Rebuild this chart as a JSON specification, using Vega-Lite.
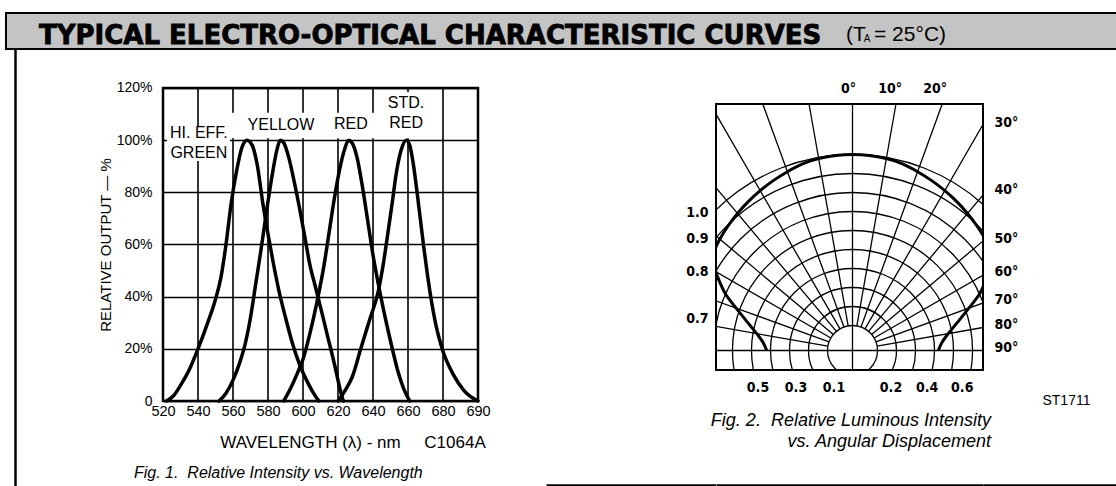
{
"$schema": "https://vega.github.io/schema/vega-lite/v6.json",
"padding": {"left": 5, "top": 12, "right": 0, "bottom": 0},
"background": "white",
"spacing": 0,
"bounds": "flush",
"config": {
  "font": "Liberation Sans",
  "view": {"stroke": null},
  "axis": {"labelColor": "black", "titleColor": "black", "domainColor": "black", "tickColor": "black", "gridColor": "black", "labelFont": "Liberation Sans", "titleFont": "Liberation Sans", "titleFontWeight": "normal"},
  "title": {"color": "black"}
},
"vconcat": [
  {
    "width": 1111, "height": 36,
    "view": {"fill": "#c4c4c4", "stroke": "black", "strokeWidth": 2},
    "data": {"values": [{"k": 1}]},
    "layer": [
      {"mark": {"type": "text", "text": "TYPICAL ELECTRO-OPTICAL CHARACTERISTIC CURVES", "font": "DejaVu Sans", "fontWeight": "bold", "fontSize": 26, "align": "left", "baseline": "alphabetic", "color": "black", "stroke": "black", "strokeWidth": 0.8},
       "encoding": {"x": {"datum": 2.97, "type": "quantitative", "scale": {"domain": [0, 100], "nice": false, "zero": false}, "axis": null}, "y": {"datum": 5, "type": "quantitative", "scale": {"domain": [0, 36], "nice": false, "zero": false}, "axis": null}}},
      {"mark": {"type": "text", "text": "(T", "font": "Liberation Sans", "fontSize": 21, "align": "left", "baseline": "alphabetic", "color": "black"},
       "encoding": {"x": {"datum": 75.61, "type": "quantitative"}, "y": {"datum": 8, "type": "quantitative"}}},
      {"mark": {"type": "text", "text": "A", "font": "Liberation Sans", "fontSize": 10, "align": "left", "baseline": "alphabetic", "color": "black"},
       "encoding": {"x": {"datum": 77.2, "type": "quantitative"}, "y": {"datum": 7.5, "type": "quantitative"}}},
      {"mark": {"type": "text", "text": "= 25°C)", "font": "Liberation Sans", "fontSize": 21, "align": "left", "baseline": "alphabetic", "color": "black"},
       "encoding": {"x": {"datum": 78.13, "type": "quantitative"}, "y": {"datum": 8, "type": "quantitative"}}}
    ]
  },
  {
    "hconcat": [
      {
        "width": 157, "height": 438,
        "data": {"values": [{"v": 0}]},
        "mark": {"type": "text", "text": ""},
        "encoding": {"y": {"field": "v", "type": "quantitative", "scale": {"domain": [0, 1], "nice": false}, "axis": {"orient": "left", "offset": -9, "domain": true, "domainColor": "black", "domainWidth": 2.5, "ticks": false, "labels": false, "grid": false, "title": null}}}
      },
      {
        "width": 315, "height": 352,
        "title": {"text": "Fig. 1.\u00a0\u00a0Relative Intensity vs. Wavelength", "orient": "bottom", "anchor": "start", "frame": "group", "offset": 14, "dx": -29, "fontSize": 16, "fontStyle": "italic", "fontWeight": "normal", "font": "Liberation Sans", "color": "black"},
        "encoding": {
          "x": {"field": "nm", "type": "quantitative", "scale": {"type": "linear", "domain": [520, 680, 690], "range": [0, 280, 315], "nice": false, "zero": false},
                "axis": {"values": [520, 540, 560, 580, 600, 620, 640, 660, 680, 690], "grid": false, "ticks": false, "domain": false, "labelFontSize": 14.5, "labelPadding": 3, "labelOverlap": false, "labelFlush": false, "title": "WAVELENGTH (λ) - nm\u00a0\u00a0\u00a0\u00a0\u00a0C1064A", "titleFontSize": 17, "titleFontWeight": "normal", "titlePadding": 17, "titleX": 189.5}},
          "y": {"field": "pct", "type": "quantitative", "scale": {"domain": [0, 134.95], "nice": false, "zero": false},
                "axis": {"values": [0, 20, 40, 60, 80, 100, 120], "labelExpr": "datum.value == 0 ? '0' : datum.value + '%'", "grid": true, "gridColor": "black", "gridWidth": 1.6, "ticks": false, "domain": false, "labelFontSize": 14, "labelPadding": 11, "labelOverlap": false, "title": "RELATIVE OUTPUT — %", "titleFontSize": 15, "titleFontWeight": "normal", "titlePadding": 3, "titleY": 195.5}}
        },
        "layer": [
          {"data": {"values": [{"nm": 540, "pct": 0, "pct2": 120}, {"nm": 560, "pct": 0, "pct2": 120}, {"nm": 580, "pct": 0, "pct2": 120}, {"nm": 600, "pct": 0, "pct2": 120}, {"nm": 620, "pct": 0, "pct2": 120}, {"nm": 640, "pct": 0, "pct2": 120}, {"nm": 660, "pct": 0, "pct2": 120}, {"nm": 680, "pct": 0, "pct2": 120}]},
           "mark": {"type": "rule", "color": "black", "strokeWidth": 1.6},
           "encoding": {"y2": {"field": "pct2"}}},
          {"data": {"values": [
            {"nm": 522.3, "nm2": 558.3, "pct": 92, "pct2": 105.4},
            {"nm": 550, "nm2": 647, "pct": 100.7, "pct2": 110.5},
            {"nm": 646, "nm2": 674, "pct": 100.7, "pct2": 118.5}
           ]},
           "mark": {"type": "rect", "fill": "white", "stroke": null},
           "encoding": {"x2": {"field": "nm2"}, "y2": {"field": "pct2"}}},
          {"data": {"values": [
            {"led": "G", "nm": 522, "pct": 0}, {"led": "G", "nm": 526, "pct": 2}, {"led": "G", "nm": 530, "pct": 6}, {"led": "G", "nm": 535, "pct": 12}, {"led": "G", "nm": 540, "pct": 20}, {"led": "G", "nm": 545, "pct": 29}, {"led": "G", "nm": 550, "pct": 39}, {"led": "G", "nm": 553, "pct": 47}, {"led": "G", "nm": 556, "pct": 60}, {"led": "G", "nm": 559, "pct": 76}, {"led": "G", "nm": 562, "pct": 88}, {"led": "G", "nm": 565, "pct": 97}, {"led": "G", "nm": 568, "pct": 100}, {"led": "G", "nm": 571, "pct": 98}, {"led": "G", "nm": 574, "pct": 90}, {"led": "G", "nm": 577, "pct": 76}, {"led": "G", "nm": 580, "pct": 64}, {"led": "G", "nm": 583, "pct": 53}, {"led": "G", "nm": 586, "pct": 43}, {"led": "G", "nm": 590, "pct": 32}, {"led": "G", "nm": 594, "pct": 22}, {"led": "G", "nm": 598, "pct": 14}, {"led": "G", "nm": 602, "pct": 8}, {"led": "G", "nm": 606, "pct": 3}, {"led": "G", "nm": 609, "pct": 0},
            {"led": "Y", "nm": 552, "pct": 0}, {"led": "Y", "nm": 556, "pct": 3}, {"led": "Y", "nm": 560, "pct": 8}, {"led": "Y", "nm": 564, "pct": 15}, {"led": "Y", "nm": 567, "pct": 22}, {"led": "Y", "nm": 570, "pct": 32}, {"led": "Y", "nm": 573, "pct": 45}, {"led": "Y", "nm": 576, "pct": 58}, {"led": "Y", "nm": 579, "pct": 72}, {"led": "Y", "nm": 582, "pct": 85}, {"led": "Y", "nm": 585, "pct": 96}, {"led": "Y", "nm": 587, "pct": 100}, {"led": "Y", "nm": 589, "pct": 99}, {"led": "Y", "nm": 592, "pct": 93}, {"led": "Y", "nm": 595, "pct": 84}, {"led": "Y", "nm": 598, "pct": 74}, {"led": "Y", "nm": 601, "pct": 63}, {"led": "Y", "nm": 604, "pct": 52}, {"led": "Y", "nm": 607, "pct": 44}, {"led": "Y", "nm": 610, "pct": 36}, {"led": "Y", "nm": 614, "pct": 25}, {"led": "Y", "nm": 618, "pct": 14}, {"led": "Y", "nm": 621, "pct": 5}, {"led": "Y", "nm": 623, "pct": 0},
            {"led": "R", "nm": 589, "pct": 0}, {"led": "R", "nm": 593, "pct": 5}, {"led": "R", "nm": 597, "pct": 11}, {"led": "R", "nm": 600, "pct": 16}, {"led": "R", "nm": 604, "pct": 26}, {"led": "R", "nm": 608, "pct": 38}, {"led": "R", "nm": 612, "pct": 52}, {"led": "R", "nm": 615, "pct": 65}, {"led": "R", "nm": 618, "pct": 78}, {"led": "R", "nm": 621, "pct": 89}, {"led": "R", "nm": 624, "pct": 97}, {"led": "R", "nm": 626, "pct": 100}, {"led": "R", "nm": 628, "pct": 99}, {"led": "R", "nm": 631, "pct": 93}, {"led": "R", "nm": 634, "pct": 82}, {"led": "R", "nm": 637, "pct": 69}, {"led": "R", "nm": 640, "pct": 56}, {"led": "R", "nm": 643, "pct": 45}, {"led": "R", "nm": 646, "pct": 35}, {"led": "R", "nm": 650, "pct": 23}, {"led": "R", "nm": 654, "pct": 12}, {"led": "R", "nm": 658, "pct": 4}, {"led": "R", "nm": 661, "pct": 0},
            {"led": "S", "nm": 620, "pct": 0}, {"led": "S", "nm": 624, "pct": 4}, {"led": "S", "nm": 628, "pct": 9}, {"led": "S", "nm": 633, "pct": 20}, {"led": "S", "nm": 638, "pct": 31}, {"led": "S", "nm": 643, "pct": 42}, {"led": "S", "nm": 646, "pct": 53}, {"led": "S", "nm": 648, "pct": 62}, {"led": "S", "nm": 651, "pct": 76}, {"led": "S", "nm": 653, "pct": 86}, {"led": "S", "nm": 656, "pct": 96}, {"led": "S", "nm": 659, "pct": 100}, {"led": "S", "nm": 661, "pct": 98}, {"led": "S", "nm": 663, "pct": 91}, {"led": "S", "nm": 665, "pct": 81}, {"led": "S", "nm": 667, "pct": 70}, {"led": "S", "nm": 669, "pct": 59}, {"led": "S", "nm": 671, "pct": 49}, {"led": "S", "nm": 673, "pct": 40}, {"led": "S", "nm": 676, "pct": 29}, {"led": "S", "nm": 679.5, "pct": 20}, {"led": "S", "nm": 683, "pct": 10}, {"led": "S", "nm": 686, "pct": 4}, {"led": "S", "nm": 690, "pct": 0}
           ]},
           "mark": {"type": "line", "color": "black", "strokeWidth": 3.5, "interpolate": "monotone", "strokeCap": "round"},
           "encoding": {"detail": {"field": "led", "type": "nominal"}}},
          {"data": {"values": [{"nm": 520, "nm2": 690, "pct": 0, "pct2": 120}]},
           "mark": {"type": "rect", "fill": null, "fillOpacity": 0, "stroke": "black", "strokeWidth": 2.5},
           "encoding": {"x2": {"field": "nm2"}, "y2": {"field": "pct2"}}},
          {"data": {"values": [
            {"t": "HI. EFF.", "nm": 540.5, "pct": 102.8},
            {"t": "GREEN", "nm": 540.5, "pct": 95.1},
            {"t": "YELLOW", "nm": 587.4, "pct": 105.8},
            {"t": "RED", "nm": 627.4, "pct": 106.2},
            {"t": "STD.", "nm": 658.9, "pct": 114.3},
            {"t": "RED", "nm": 658.9, "pct": 106.6}
           ]},
           "mark": {"type": "text", "fontSize": 16, "color": "black", "baseline": "middle", "align": "center", "font": "Liberation Sans"},
           "encoding": {"text": {"field": "t", "type": "nominal"}}}
        ]
      },
      {
        "width": 68, "height": 10,
        "data": {"values": [{"v": 0}]},
        "mark": {"type": "text", "text": ""}
      },
      {
        "width": 169.5, "height": 436,
        "data": {"values": [{"v": 0}]},
        "mark": {"type": "text", "text": ""},
        "encoding": {"x": {"field": "v", "type": "quantitative", "scale": {"domain": [0, 1], "nice": false}, "axis": {"orient": "bottom", "domain": true, "domainColor": "black", "domainWidth": 2.5, "ticks": false, "labels": false, "grid": false, "title": null}}}
      },
      {
        "width": 267, "height": 321,
        "title": {"text": "Fig. 2.\u00a0\u00a0Relative Luminous Intensity", "subtitle": "vs. Angular Displacement", "orient": "bottom", "anchor": "end", "frame": "group", "offset": -73, "dx": 8, "fontSize": 18, "fontStyle": "italic", "fontWeight": "normal", "font": "Liberation Sans", "color": "black", "subtitleFont": "Liberation Sans", "subtitleFontSize": 18, "subtitleFontStyle": "italic", "subtitleColor": "black", "subtitlePadding": 3},
        "resolve": {"axis": {"x": "independent", "y": "independent"}},
        "layer": [
          {"data": {"values": [{"v": 0.1}, {"v": 0.2}, {"v": 0.3}, {"v": 0.4}, {"v": 0.5}, {"v": 0.6}, {"v": 0.7}, {"v": 0.8}, {"v": 0.9}, {"v": 1.0}]},
           "mark": {"type": "arc", "filled": false, "color": "black", "stroke": "black", "strokeWidth": 1.3, "clip": true},
           "encoding": {
             "x": {"datum": 0, "type": "quantitative", "scale": {"domain": [-0.7184, 0.6868], "nice": false, "zero": false},
                   "axis": {"orient": "bottom", "values": [-0.5, -0.3, -0.1, 0.2, 0.39, 0.575], "labelExpr": "format(abs(datum.value), '.1f')", "domain": false, "ticks": false, "grid": false, "title": null, "labelPadding": 10, "labelFontSize": 14, "labelFontWeight": "bold", "labelFont": "Liberation Sans Narrow, DejaVu Sans Condensed, Liberation Sans", "labelOverlap": false}},
             "y": {"datum": 0, "type": "quantitative", "scale": {"domain": [-0.1026, 1.5869], "nice": false, "zero": false},
                   "axis": {"orient": "left", "values": [0.166, 0.418, 0.587, 0.725], "labelExpr": "datum.value > 0.65 ? '1.0' : datum.value > 0.5 ? '0.9' : datum.value > 0.3 ? '0.8' : '0.7'", "domain": false, "ticks": false, "grid": false, "title": null, "labelPadding": 8, "labelFontSize": 14, "labelFontWeight": "bold", "labelFont": "Liberation Sans Narrow, DejaVu Sans Condensed, Liberation Sans", "labelOverlap": false}},
             "theta": {"datum": -180, "type": "quantitative", "scale": {"type": "linear", "domain": [0, 360], "range": [0, 6.283185307179586]}, "stack": null},
             "theta2": {"datum": 180},
             "radius": {"field": "v", "type": "quantitative", "scale": {"type": "linear", "domain": [-0.0316, 1], "range": [0, 196], "zero": false}},
             "radius2": {"field": "v"}
           }},
          {"data": {"values": [
            {"ang": 0, "r0": -0.0316, "r1": 1.2658}, {"ang": 90, "r0": -0.0316, "r1": 1.5}, {"ang": -90, "r0": -0.0316, "r1": 1.5}, {"ang": 180, "r0": -0.0316, "r1": 0.3},
            {"ang": 10, "r0": 0.1, "r1": 1.2858}, {"ang": 20, "r0": 0.1, "r1": 1.3491}, {"ang": 30, "r0": 0.1, "r1": 1.5}, {"ang": 40, "r0": 0.1, "r1": 1.5}, {"ang": 50, "r0": 0.1, "r1": 1.5}, {"ang": 60, "r0": 0.1, "r1": 1.5}, {"ang": 70, "r0": 0.1, "r1": 1.5}, {"ang": 80, "r0": 0.1, "r1": 1.5},
            {"ang": -10, "r0": 0.1, "r1": 1.2858}, {"ang": -20, "r0": 0.1, "r1": 1.3491}, {"ang": -30, "r0": 0.1, "r1": 1.5}, {"ang": -40, "r0": 0.1, "r1": 1.5}, {"ang": -50, "r0": 0.1, "r1": 1.5}, {"ang": -60, "r0": 0.1, "r1": 1.5}, {"ang": -70, "r0": 0.1, "r1": 1.5}, {"ang": -80, "r0": 0.1, "r1": 1.5}
           ]},
           "mark": {"type": "arc", "filled": false, "color": "black", "stroke": "black", "strokeWidth": 1.3, "clip": true},
           "encoding": {
             "x": {"datum": 0, "type": "quantitative",
                   "axis": {"orient": "top", "offset": -55, "values": [-0.023, 0.195, 0.432], "labelExpr": "datum.value < 0.1 ? '0°' : datum.value < 0.3 ? '10°' : '20°'", "domain": false, "ticks": false, "grid": false, "title": null, "labelPadding": 9, "labelFontSize": 14, "labelFontWeight": "bold", "labelFont": "Liberation Sans Narrow, DejaVu Sans Condensed, Liberation Sans", "labelOverlap": false}},
             "y": {"datum": 0, "type": "quantitative",
                   "axis": {"orient": "right", "values": [0.015, 0.139, 0.271, 0.418, 0.587, 0.85, 1.199], "labelExpr": "datum.value > 1 ? '30°' : datum.value > 0.7 ? '40°' : datum.value > 0.5 ? '50°' : datum.value > 0.35 ? '60°' : datum.value > 0.2 ? '70°' : datum.value > 0.08 ? '80°' : '90°'", "domain": false, "ticks": false, "grid": false, "title": null, "labelPadding": 11, "labelFontSize": 14, "labelFontWeight": "bold", "labelFont": "Liberation Sans Narrow, DejaVu Sans Condensed, Liberation Sans", "labelOverlap": false}},
             "theta": {"field": "ang", "type": "quantitative", "stack": null},
             "theta2": {"field": "ang"},
             "radius": {"field": "r1", "type": "quantitative"},
             "radius2": {"field": "r0"}
           }},
          {"data": {"values": [
            {"ang": -90, "x": -0.4516, "y": 0.0}, {"ang": -85, "x": -0.4698, "y": 0.0411}, {"ang": -80, "x": -0.5038, "y": 0.0888}, {"ang": -75, "x": -0.5521, "y": 0.1479}, {"ang": -70, "x": -0.6123, "y": 0.2229}, {"ang": -66, "x": -0.6684, "y": 0.2976}, {"ang": -63, "x": -0.6964, "y": 0.3548}, {"ang": -60, "x": -0.7202, "y": 0.4158}, {"ang": -57, "x": -0.731, "y": 0.4747}, {"ang": -54, "x": -0.7254, "y": 0.527}, {"ang": -50, "x": -0.6983, "y": 0.586}, {"ang": -45, "x": -0.6552, "y": 0.6552}, {"ang": -40, "x": -0.6053, "y": 0.7213}, {"ang": -35, "x": -0.5487, "y": 0.7836}, {"ang": -30, "x": -0.4858, "y": 0.8414}, {"ang": -25, "x": -0.417, "y": 0.8942}, {"ang": -20, "x": -0.3426, "y": 0.9412}, {"ang": -15, "x": -0.2631, "y": 0.982}, {"ang": -10, "x": -0.1783, "y": 1.011},
            {"ang": 0, "x": 0, "y": 1.0316},
            {"ang": 10, "x": 0.1783, "y": 1.011}, {"ang": 15, "x": 0.2631, "y": 0.982}, {"ang": 20, "x": 0.3426, "y": 0.9412}, {"ang": 25, "x": 0.417, "y": 0.8942}, {"ang": 30, "x": 0.4858, "y": 0.8414}, {"ang": 35, "x": 0.5487, "y": 0.7836}, {"ang": 40, "x": 0.6053, "y": 0.7213}, {"ang": 45, "x": 0.6552, "y": 0.6552}, {"ang": 50, "x": 0.6983, "y": 0.586}, {"ang": 54, "x": 0.7254, "y": 0.527}, {"ang": 57, "x": 0.731, "y": 0.4747}, {"ang": 60, "x": 0.7202, "y": 0.4158}, {"ang": 63, "x": 0.6964, "y": 0.3548}, {"ang": 66, "x": 0.6684, "y": 0.2976}, {"ang": 70, "x": 0.6123, "y": 0.2229}, {"ang": 75, "x": 0.5521, "y": 0.1479}, {"ang": 80, "x": 0.5038, "y": 0.0888}, {"ang": 85, "x": 0.4698, "y": 0.0411}, {"ang": 90, "x": 0.4516, "y": 0.0}
           ]},
           "mark": {"type": "line", "color": "black", "strokeWidth": 3, "clip": true, "interpolate": "catmull-rom"},
           "encoding": {
             "x": {"field": "x", "type": "quantitative", "axis": {"orient": "bottom", "offset": 115, "domain": true, "domainColor": "black", "domainWidth": 2.5, "ticks": false, "labels": false, "grid": false, "title": null}},
             "y": {"field": "y", "type": "quantitative", "axis": null},
             "order": {"field": "ang", "type": "quantitative"}
           }},
          {"data": {"values": [{"t": "ST1711"}]},
           "mark": {"type": "text", "fontSize": 14, "color": "black", "font": "Liberation Sans"},
           "encoding": {
             "x": {"datum": 1.126, "type": "quantitative", "axis": null},
             "y": {"datum": -0.266, "type": "quantitative", "axis": null},
             "text": {"field": "t", "type": "nominal"}
           }},
          {"data": {"values": [{"frame": "box"}]},
           "mark": {"type": "rect", "fill": null, "fillOpacity": 0, "stroke": "black", "strokeWidth": 2},
           "encoding": {
             "x": {"datum": -0.7184, "type": "quantitative", "axis": null}, "x2": {"datum": 0.6868},
             "y": {"datum": -0.1026, "type": "quantitative", "axis": null}, "y2": {"datum": 1.2974}
           }}
        ]
      },
      {
        "width": 134.5, "height": 436,
        "data": {"values": [{"v": 0}]},
        "mark": {"type": "text", "text": ""},
        "encoding": {"x": {"field": "v", "type": "quantitative", "scale": {"domain": [0, 1], "nice": false}, "axis": {"orient": "bottom", "domain": true, "domainColor": "black", "domainWidth": 2.5, "ticks": false, "labels": false, "grid": false, "title": null}}}
      }
    ],
    "spacing": 0,
    "bounds": "flush"
  }
]
}
